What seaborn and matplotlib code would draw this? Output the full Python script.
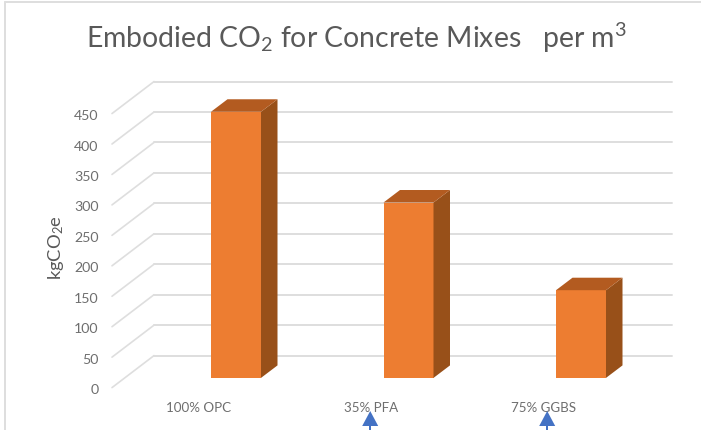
import matplotlib
matplotlib.use("Agg")
import matplotlib.pyplot as plt
from matplotlib.patches import Polygon, Rectangle
import pandas as pd
import seaborn as sns

mixes = ["100% OPC", "35% PFA", "75% GGBS"]
embodied_co2 = [437, 288, 144]
y_ticks = [0, 50, 100, 150, 200, 250, 300, 350, 400, 450]
arrow_mixes = [0.778, 1.804]

W, H = 701, 431
UNIT_X = 172.5        # pixels per category
UNIT_Y = 0.609        # pixels per kgCO2e
ORIGIN_X = 236.0      # pixel centre of the first category
ORIGIN_Y = 378.9      # pixel row of the zero level on the bar front plane

sns.set_theme(style="white")
plt.rcParams["font.family"] = ["Lato", "DejaVu Sans"]
plt.rcParams["mathtext.fontset"] = "custom"
plt.rcParams["mathtext.rm"] = "Lato"
plt.rcParams["mathtext.default"] = "rm"

FRONT = "#ED7D31"
TOP = "#B35B20"
SIDE = "#985019"
GRID = "#DEDEDE"
TEXT = "#595959"
TICK = "#6E6E6E"
ARROW = "#4472C4"

fig = plt.figure(figsize=(W / 100, H / 100), dpi=100, facecolor="white")
ax = fig.add_axes([0, 0, 1, 1])


def px_x(x):
    return (x - ORIGIN_X) / UNIT_X


def px_y(y):
    return (ORIGIN_Y - y) / UNIT_Y


frame = pd.DataFrame({"mix": mixes, "co2": embodied_co2})
bar_w = 50 / UNIT_X
sns.barplot(data=frame, x="mix", y="co2", color=FRONT, saturation=1,
            width=bar_w, ax=ax, zorder=5, linewidth=0)

ax.set_xlim(px_x(0), px_x(W))
ax.set_ylim(px_y(H), px_y(0))
ax.axis("off")

# Floor offset between the front of the chart box, the bars and the back wall
back_dy = px_y(356.6)
front_dy = px_y(388.6)
back_x, right_x, front_x = px_x(154), px_x(672), px_x(112)
for v in y_ticks:
    ax.plot([back_x, right_x], [v + back_dy, v + back_dy], color=GRID, lw=1.4, zorder=1)
    ax.plot([front_x, back_x], [v + front_dy, v + back_dy], color=GRID, lw=1.2, zorder=1)
    ax.text(px_x(98.5), v + front_dy - 2.5, str(v), ha="right", va="center",
            fontsize=10.2, color=TICK)

# Side and top faces of each bar
dx, dy = 16.5 / UNIT_X, 12.5 / UNIT_Y
for i, v in enumerate(embodied_co2):
    x0, x1 = i - bar_w / 2, i + bar_w / 2
    ax.add_patch(Polygon([(x1, 0), (x1 + dx, dy), (x1 + dx, v + dy), (x1, v)],
                         closed=True, fc=SIDE, ec="none", zorder=5))
    ax.add_patch(Polygon([(x0, v), (x1, v), (x1 + dx, v + dy), (x0 + dx, v + dy)],
                         closed=True, fc=TOP, ec="none", zorder=5))
    ax.text(i - 0.215, px_y(408.5), mixes[i], ha="center", va="center",
            fontsize=9.6, color=TICK, zorder=6)

ax.text(px_x(356.5), px_y(38), r"Embodied CO$_2$ for Concrete Mixes   per m$^3$",
        ha="center", va="center", fontsize=20.4, color=TEXT)
ax.text(px_x(56), px_y(248), r"kgCO$_2$e", rotation=90, ha="center", va="center",
        fontsize=13.2, color=TEXT)

# Chart frame along the top and left
ax.plot([px_x(5), px_x(W)], [px_y(3), px_y(3)], color=GRID, lw=1.4, zorder=2)
ax.plot([px_x(5), px_x(5)], [px_y(3), px_y(H)], color=GRID, lw=1.4, zorder=2)

# Annotation arrows rising from the bottom edge
for a in arrow_mixes:
    ax.add_patch(Polygon([(a - 8 / UNIT_X, px_y(427)), (a + 8 / UNIT_X, px_y(427)),
                          (a, px_y(412))], closed=True, fc=ARROW, ec="none", zorder=7))
    ax.add_patch(Rectangle((a - 1 / UNIT_X, px_y(H)), 2 / UNIT_X, px_y(427) - px_y(H),
                           fc=ARROW, ec="none", zorder=7))

fig.savefig("out.png", dpi=100)
